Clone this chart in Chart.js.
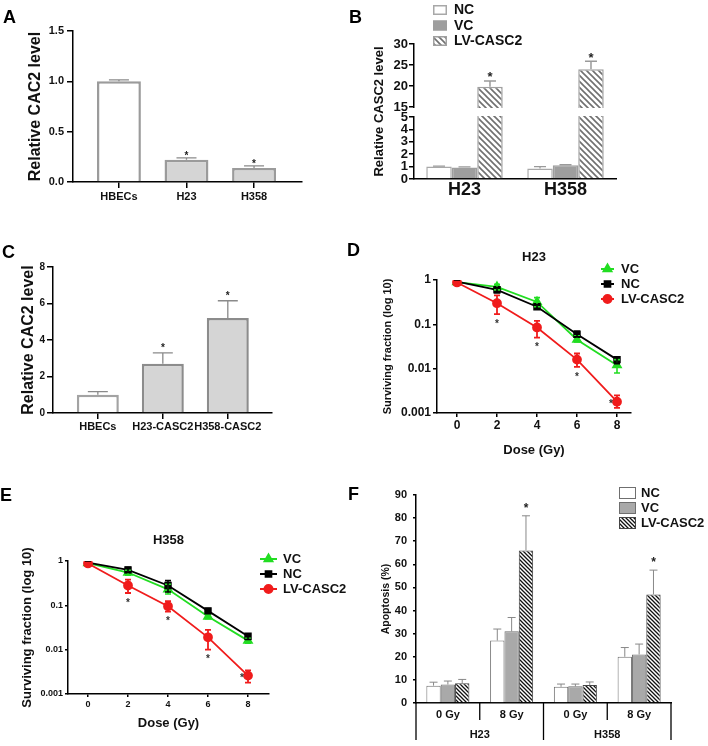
<!DOCTYPE html>
<html><head><meta charset="utf-8">
<script src="https://cdn.jsdelivr.net/npm/chart.js@4.4.1/dist/chart.umd.min.js"></script>
<style>
html,body{margin:0;padding:0;background:#fff}
body{width:708px;height:746px;position:relative;overflow:hidden;font-family:'Liberation Sans',Arial,sans-serif}
canvas{position:absolute}
.lt{position:absolute;font-weight:bold;font-size:18px;line-height:1;color:#000}
</style></head><body>
<canvas id="cA" width="354" height="205" style="left:0;top:0"></canvas>
<canvas id="cB" width="354" height="205" style="left:354px;top:0"></canvas>
<canvas id="cC" width="354" height="200" style="left:0;top:240px"></canvas>
<canvas id="cD" width="354" height="230" style="left:354px;top:232px"></canvas>
<canvas id="cE" width="354" height="246" style="left:0;top:500px"></canvas>
<canvas id="cF" width="354" height="276" style="left:354px;top:470px"></canvas>
<div class="lt" style="left:3px;top:8px">A</div>
<div class="lt" style="left:349px;top:8px">B</div>
<div class="lt" style="left:2px;top:243px">C</div>
<div class="lt" style="left:347px;top:241px">D</div>
<div class="lt" style="left:0px;top:486px">E</div>
<div class="lt" style="left:348px;top:485px">F</div>
<script>
// ---------- DATA ----------
// Panel A
const aCats = ['HBECs', 'H23', 'H358'];
const aVals = [1.0, 0.22, 0.14];
const aErr = [0.015, 0.02, 0.02];
const aSig = [false, true, true];
const aTicks = [0, 0.5, 1.0, 1.5];

// Panel B
const bCats = ['H23', 'H358'];
const bNC = [1.0, 0.85];
const bVC = [0.93, 1.1];
const bLV = [19.8, 24.0];
const bNCErr = [0.04, 0.15];
const bVCErr = [0.05, 0.05];
const bLVErr = [1.4, 1.9];
const bSig = [true, true];
const bTicks = [0, 1, 2, 3, 4, 5, 15, 20, 25, 30];

// Panel C
const cCats = ['HBECs', 'H23-CASC2', 'H358-CASC2'];
const cVals = [1.0, 2.7, 5.2];
const cErr = [0.17, 0.6, 0.95];
const cSig = [false, true, true];
const cTicks = [0, 2, 4, 6, 8];

// Panels D & E (dose in Gy)
const doses = [0, 2, 4, 6, 8];
const logTicks = [0.001, 0.01, 0.1, 1];
// D: H23
const dVC = [0.9, 0.7, 0.32, 0.045, 0.012];
const dVCLo = [0.85, 0.6, 0.25, 0.04, 0.008];
const dVCHi = [0.95, 0.8, 0.4, 0.055, 0.016];
const dNC = [0.92, 0.6, 0.25, 0.06, 0.016];
const dNCLo = [0.88, 0.52, 0.22, 0.052, 0.013];
const dNCHi = [0.96, 0.68, 0.28, 0.07, 0.018];
const dLV = [0.88, 0.3, 0.085, 0.016, 0.0018];
const dLVLo = [0.85, 0.17, 0.05, 0.011, 0.0013];
const dLVHi = [0.92, 0.45, 0.12, 0.022, 0.0025];
const dSig = [false, true, true, true, true];
// E: H358
const eVC = [0.9, 0.55, 0.23, 0.056, 0.016];
const eVCLo = [0.86, 0.48, 0.18, 0.05, 0.014];
const eVCHi = [0.94, 0.62, 0.3, 0.062, 0.018];
const eNC = [0.92, 0.63, 0.28, 0.075, 0.02];
const eNCLo = [0.88, 0.55, 0.2, 0.065, 0.017];
const eNCHi = [0.96, 0.72, 0.36, 0.085, 0.022];
const eLV = [0.88, 0.28, 0.095, 0.019, 0.0026];
const eLVLo = [0.85, 0.19, 0.072, 0.01, 0.0018];
const eLVHi = [0.92, 0.38, 0.125, 0.028, 0.0034];
const eSig = [false, true, true, true, true];

// Panel F
const fCats = ['0 Gy', '8 Gy', '0 Gy', '8 Gy'];
const fGroups = ['H23', 'H358'];
const fNC = [7.5, 27, 7, 20];
const fNCErr = [1.5, 5, 1.2, 4];
const fVC = [8, 31, 7.2, 21];
const fVCErr = [1.5, 6, 1, 4.5];
const fLV = [8.5, 66, 7.8, 47];
const fLVErr = [1.7, 15, 1.3, 10.5];
const fSig = [false, true, false, true];
const fTicks = [0, 10, 20, 30, 40, 50, 60, 70, 80, 90];

// ---------- SETUP ----------
const FF = "'Liberation Sans', Arial, sans-serif";
Chart.defaults.font.family = FF;
Chart.defaults.font.weight = 'bold';
Chart.defaults.color = '#111';
Chart.defaults.animation = false;
Chart.defaults.responsive = false;
Chart.defaults.devicePixelRatio = 1;
Chart.defaults.plugins.legend.display = false;
Chart.defaults.plugins.tooltip.enabled = false;

const fixW = w => s => { s.width = w; };
const fixH = h => s => { s.height = h; };
const ticksAt = vals => s => { s.ticks = vals.map(v => ({ value: v })); };
const pts = (xs, ys) => ys.map((y, i) => ({ x: xs[i], y }));
const idx = arr => arr.map((_, i) => i);
const AX = { color: '#000', width: 1.5 };
const grid = tl => ({ drawOnChartArea: false, drawTicks: true, tickLength: tl, color: '#000', lineWidth: 1.5, offset: false });

function hatch(p, lw, col) {
  const c = document.createElement('canvas'); c.width = p; c.height = p;
  const g = c.getContext('2d');
  g.fillStyle = '#fff'; g.fillRect(0, 0, p, p);
  g.strokeStyle = col; g.lineWidth = lw; g.beginPath();
  g.moveTo(-1, -1); g.lineTo(p + 1, p + 1);
  g.moveTo(-1, p - 1); g.lineTo(1, p + 1);
  g.moveTo(p - 1, -1); g.lineTo(p + 1, 1);
  g.stroke();
  return g.createPattern(c, 'repeat');
}

// Broken linear axis (0-5 lower segment, 15-30 upper segment)
class BrokenScale extends Chart.LinearScale {
  static id = 'broken';
  static defaults = Chart.LinearScale.defaults;
  _dec(v) {
    const lo = 5, hi = 15, fLo = 62 / 135, fHi = 72 / 135;
    if (v <= lo) return (v - this.min) / (lo - this.min) * fLo;
    if (v >= hi) return fHi + (v - hi) / (this.max - hi) * (1 - fHi);
    return fLo + (v - lo) / (hi - lo) * (fHi - fLo);
  }
  getPixelForValue(v) { return this.getPixelForDecimal(this._dec(v)); }
  getValueForPixel(p) {
    const d = this.getDecimalForPixel(p), lo = 5, hi = 15, fLo = 62 / 135, fHi = 72 / 135;
    if (d <= fLo) return this.min + d / fLo * (lo - this.min);
    if (d >= fHi) return hi + (d - fHi) / (1 - fHi) * (this.max - hi);
    return lo + (d - fLo) / (fHi - fLo) * (hi - lo);
  }
}
Chart.register(BrokenScale);

const extras = {
  id: 'extras',
  afterDatasetsDraw(chart, args, o) {
    const ctx = chart.ctx, ys = chart.scales.y, ca = chart.chartArea;
    ctx.save();
    if (o.brk) {
      const yTop = ys.getPixelForValue(o.brk[1]), yBot = ys.getPixelForValue(o.brk[0]);
      ctx.fillStyle = '#fff';
      ctx.fillRect(ca.left - 3, yTop + 1, ca.right - ca.left + 6, yBot - yTop - 2);
    }
    chart.data.datasets.forEach((ds, di) => {
      const meta = chart.getDatasetMeta(di);
      const cw = ds.capW || 4;
      meta.data.forEach((el, i) => {
        ctx.strokeStyle = ds.errColor || ds.borderColor;
        ctx.lineWidth = ds.errWidth || 1;
        const x = el.x;
        let yUp = null, yLow = null;
        if (ds.errUp) {
          const d = ds.data[i], v = (typeof d === 'object') ? d.y : d;
          const y0 = ys.getPixelForValue(v), y1 = ys.getPixelForValue(v + ds.errUp[i]);
          ctx.beginPath(); ctx.moveTo(x, y0); ctx.lineTo(x, y1);
          ctx.moveTo(x - cw, y1); ctx.lineTo(x + cw, y1); ctx.stroke();
          yUp = y1;
        }
        if (ds.errLo) {
          const y1 = ys.getPixelForValue(ds.errHi[i]), y2 = ys.getPixelForValue(ds.errLo[i]);
          ctx.beginPath(); ctx.moveTo(x, y1); ctx.lineTo(x, y2);
          ctx.moveTo(x - cw, y1); ctx.lineTo(x + cw, y1);
          ctx.moveTo(x - cw, y2); ctx.lineTo(x + cw, y2); ctx.stroke();
          yLow = y2;
        }
        if (ds.sig && ds.sig[i]) {
          const s = o.starSize || 11;
          ctx.fillStyle = o.starColor || '#222';
          ctx.font = `bold ${s}px ${FF}`;
          ctx.textAlign = 'center'; ctx.textBaseline = 'alphabetic';
          let cx, cy;
          if (yUp !== null) { cx = x; cy = yUp - o.starGap; }
          else if (i === ds.data.length - 1) { cx = x - o.starSide; cy = el.y; }
          else { cx = x; cy = yLow + o.starGap; }
          ctx.fillText('*', cx, cy + 0.57 * s);
        }
      });
    });
    ctx.restore();
  },
  afterDraw(chart, args, o) {
    const ctx = chart.ctx;
    ctx.save();
    if (o.seps) {
      const xs = chart.scales.x, b = chart.chartArea.bottom;
      ctx.strokeStyle = '#000'; ctx.lineWidth = 1.3;
      o.seps.forEach(([v, len]) => {
        const x = xs.getPixelForValue(v);
        ctx.beginPath(); ctx.moveTo(x, b); ctx.lineTo(x, b + len); ctx.stroke();
      });
    }
    if (o.legend) {
      const L = o.legend;
      chart.data.datasets.forEach((ds, i) => {
        const y = L.y + i * L.dy;
        if (L.type === 'bar') {
          ctx.fillStyle = ds.backgroundColor;
          ctx.fillRect(L.x, y - L.h / 2, L.w, L.h);
          ctx.strokeStyle = ds.borderColor; ctx.lineWidth = L.bw;
          ctx.strokeRect(L.x + L.bw / 2, y - L.h / 2 + L.bw / 2, L.w - L.bw, L.h - L.bw);
        } else {
          ctx.strokeStyle = ds.borderColor; ctx.lineWidth = 2;
          ctx.beginPath(); ctx.moveTo(L.x, y); ctx.lineTo(L.x + L.w, y); ctx.stroke();
          ctx.fillStyle = ds.pointBackgroundColor;
          Chart.helpers.drawPoint(ctx, { pointStyle: ds.pointStyle, rotation: 0, radius: ds.pointRadius, borderWidth: 1 }, L.x + L.w / 2, y);
        }
        ctx.fillStyle = '#111';
        ctx.font = `bold ${L.size}px ${FF}`;
        ctx.textAlign = 'left'; ctx.textBaseline = 'middle';
        ctx.fillText(ds.label, L.tx, y + 0.5);
      });
    }
    ctx.restore();
  }
};
Chart.register(extras);

// ---------- PANEL A ----------
new Chart(document.getElementById('cA'), {
  type: 'bar',
  data: { datasets: [{
    data: pts(idx(aCats), aVals),
    backgroundColor: ['#ffffff', '#d5d5d5', '#d5d5d5'],
    borderColor: '#9b9b9b', borderWidth: 2.5,
    barPercentage: 0.65, categoryPercentage: 1,
    errUp: aErr, sig: aSig, errColor: '#8a8a8a', errWidth: 1.3, capW: 10
  }] },
  options: {
    layout: { padding: { left: 0, right: 52, top: 31, bottom: 0 } },
    scales: {
      x: { type: 'linear', offset: false, min: -0.68, max: 2.71, afterBuildTicks: ticksAt(idx(aCats)), afterFit: fixH(23),
        ticks: { callback: v => aCats[v], autoSkip: false, maxRotation: 0, padding: 2, font: { size: 11 } },
        grid: grid(6), border: AX },
      y: { min: 0, max: 1.5, afterBuildTicks: ticksAt(aTicks), afterFit: fixW(73),
        ticks: { callback: v => v.toFixed(1), padding: 3, font: { size: 11 }, autoSkip: false },
        grid: grid(6), border: AX,
        title: { display: true, text: 'Relative CAC2 level', font: { size: 16 }, padding: { top: 26, bottom: 0 }, color: '#111' } }
    },
    plugins: { extras: { starGap: 5, starSize: 10 } }
  }
});

// ---------- PANEL B ----------
new Chart(document.getElementById('cB'), {
  type: 'bar',
  data: { labels: bCats, datasets: [
    { label: 'NC', data: bNC, backgroundColor: '#ffffff', borderColor: '#a8a8a8', borderWidth: 1.5, errUp: bNCErr, errColor: '#9a9a9a', errWidth: 1.3, capW: 6 },
    { label: 'VC', data: bVC, backgroundColor: '#9e9e9e', borderColor: '#9e9e9e', borderWidth: 1.5, errUp: bVCErr, errColor: '#9a9a9a', errWidth: 1.3, capW: 6 },
    { label: 'LV-CASC2', data: bLV, backgroundColor: hatch(6, 1.6, '#707070'), borderColor: '#a0a0a0', borderWidth: 1.5, errUp: bLVErr, sig: bSig, errColor: '#9a9a9a', errWidth: 1.5, capW: 6 }
  ] },
  options: {
    layout: { padding: { left: 0, right: 92, top: 44, bottom: 0 } },
    datasets: { bar: { categoryPercentage: 0.757, barPercentage: 1 } },
    scales: {
      x: { afterFit: fixH(26), grid: { display: false, drawTicks: false }, border: AX,
        ticks: { font: { size: 18 }, padding: 0, autoSkip: false, maxRotation: 0 } },
      y: { type: 'broken', min: 0, max: 30, afterBuildTicks: ticksAt(bTicks), afterFit: fixW(60),
        ticks: { font: { size: 13 }, padding: 1, autoSkip: false, callback: v => String(v) },
        grid: grid(5), border: AX,
        title: { display: true, text: 'Relative CASC2 level', font: { size: 13 }, padding: { top: 18, bottom: 0 }, color: '#111' } }
    },
    plugins: { extras: { brk: [5, 15], starGap: 7, starSize: 13,
      legend: { type: 'bar', x: 79, y: 10, dy: 15.5, w: 14, h: 10, bw: 1.5, tx: 100, size: 14 } } }
  }
});

// ---------- PANEL C ----------
new Chart(document.getElementById('cC'), {
  type: 'bar',
  data: { datasets: [{
    data: pts(idx(cCats), cVals),
    backgroundColor: ['#ffffff', '#d5d5d5', '#d5d5d5'],
    borderColor: ['#a3a3a3', '#8c8c8c', '#8c8c8c'], borderWidth: 2.5,
    barPercentage: 0.646, categoryPercentage: 1,
    errUp: cErr, sig: cSig, errColor: '#8a8a8a', errWidth: 1.3, capW: 10
  }] },
  options: {
    layout: { padding: { left: 0, right: 82, top: 27, bottom: 0 } },
    scales: {
      x: { type: 'linear', offset: false, min: -0.69, max: 2.68, afterBuildTicks: ticksAt(idx(cCats)), afterFit: fixH(27),
        ticks: { callback: v => cCats[v], autoSkip: false, maxRotation: 0, padding: 1, font: { size: 11 } },
        grid: grid(6), border: AX },
      y: { min: 0, max: 8, afterBuildTicks: ticksAt(cTicks), afterFit: fixW(53),
        ticks: { padding: 2, font: { size: 10 }, autoSkip: false },
        grid: grid(6), border: AX,
        title: { display: true, text: 'Relative CAC2 level', font: { size: 16 }, padding: { top: 19, bottom: 0 }, color: '#111' } }
    },
    plugins: { extras: { starGap: 7, starSize: 10 } }
  }
});

// ---------- PANELS D & E ----------
function survival(id, title, vc, vcLo, vcHi, nc, ncLo, ncHi, lv, lvLo, lvHi, sig, L) {
  const green = '#22dd22', red = '#f01c1c', black = '#000';
  return new Chart(document.getElementById(id), {
    type: 'line',
    data: { datasets: [
      { label: 'VC', data: pts(doses, vc), errLo: vcLo, errHi: vcHi, borderColor: green, backgroundColor: green,
        pointBackgroundColor: green, pointBorderColor: green, pointStyle: 'triangle', pointRadius: 4.5,
        borderWidth: 1.8, errWidth: 1.6, capW: 3, order: 2 },
      { label: 'NC', data: pts(doses, nc), errLo: ncLo, errHi: ncHi, borderColor: black, backgroundColor: black,
        pointBackgroundColor: black, pointBorderColor: black, pointStyle: 'rect', pointRadius: 4,
        borderWidth: 1.8, errWidth: 1.6, capW: 3, order: 1 },
      { label: 'LV-CASC2', data: pts(doses, lv), errLo: lvLo, errHi: lvHi, sig: sig, borderColor: red, backgroundColor: red,
        pointBackgroundColor: red, pointBorderColor: red, pointStyle: 'circle', pointRadius: 4,
        borderWidth: 1.8, errWidth: 1.8, capW: 3, order: 0 }
    ] },
    options: {
      layout: { padding: { left: 0, right: L.padR, top: 0, bottom: 0 } },
      scales: {
        x: { type: 'linear', min: -1, max: L.xMax, afterBuildTicks: ticksAt(doses), afterFit: fixH(L.xH),
          ticks: { font: { size: L.tick }, padding: L.xPad, autoSkip: false, maxRotation: 0 },
          grid: grid(L.tl), border: AX,
          title: { display: true, text: 'Dose (Gy)', font: { size: 13 }, padding: { top: 0, bottom: L.doseB }, color: '#111' } },
        y: { type: 'logarithmic', min: 0.001, max: 1, afterBuildTicks: ticksAt(logTicks), afterFit: fixW(L.yW),
          ticks: { font: { size: L.tick }, padding: 2, autoSkip: false, callback: v => String(v) },
          grid: grid(L.tl), border: AX,
          title: { display: true, text: 'Surviving fraction (log 10)', font: { size: L.yT }, padding: { top: L.yTP, bottom: 0 }, color: '#111' } }
      },
      plugins: {
        title: { display: true, text: title, fullSize: false, font: { size: 13 }, padding: { top: L.tTop, bottom: L.tBot }, color: '#111' },
        extras: { starGap: 7, starSide: 6, starSize: 10, starColor: '#333', legend: L.legend }
      }
    }
  });
}
survival('cD', 'H23', dVC, dVCLo, dVCHi, dNC, dNCLo, dNCHi, dLV, dLVLo, dLVHi, dSig,
  { padR: 77, xMax: 8.7, xH: 49, tick: 12, xPad: 1, tl: 4, doseB: 4, yW: 83, yT: 11, yTP: 27.4, tTop: 17.2, tBot: 15.2,
    legend: { type: 'line', x: 247, y: 37, dy: 15, w: 13, tx: 267, size: 13 } });
survival('cE', 'H358', eVC, eVCLo, eVCHi, eNC, eNCLo, eNCHi, eLV, eLVLo, eLVHi, eSig,
  { padR: 85, xMax: 9.05, xH: 52, tick: 9, xPad: 2.6, tl: 3, doseB: 15, yW: 68, yT: 13, yTP: 20, tTop: 32.2, tBot: 13.2,
    legend: { type: 'line', x: 260, y: 59, dy: 15, w: 17, tx: 283, size: 13 } });

// ---------- PANEL F ----------
const fIdx = idx(fCats);
new Chart(document.getElementById('cF'), {
  type: 'bar',
  data: { datasets: [
    { label: 'NC', xAxisID: 'x', data: pts(fIdx, fNC), backgroundColor: '#ffffff', borderColor: '#6f6f6f', borderWidth: 1, errUp: fNCErr, errColor: '#888', errWidth: 1, capW: 4 },
    { label: 'VC', xAxisID: 'x', data: pts(fIdx, fVC), backgroundColor: '#a9a9a9', borderColor: '#6f6f6f', borderWidth: 1, errUp: fVCErr, errColor: '#888', errWidth: 1, capW: 4 },
    { label: 'LV-CASC2', xAxisID: 'x', data: pts(fIdx, fLV), backgroundColor: hatch(4, 1.3, '#111'), borderColor: '#444', borderWidth: 1, errUp: fLVErr, sig: fSig, errColor: '#888', errWidth: 1, capW: 4 }
  ] },
  options: {
    layout: { padding: { left: 0, right: 37, top: 25, bottom: 0 } },
    datasets: { bar: { categoryPercentage: 0.675, barPercentage: 1 } },
    scales: {
      x: { type: 'linear', weight: 0, offset: false, min: -0.5, max: 3.5, afterBuildTicks: ticksAt(fIdx), afterFit: fixH(24),
        ticks: { callback: v => fCats[v], autoSkip: false, maxRotation: 0, padding: 5, font: { size: 11 } },
        grid: { display: false, drawTicks: false, offset: false }, border: AX },
      x2: { type: 'linear', axis: 'x', position: 'bottom', weight: 1, offset: false, min: -0.5, max: 3.5,
        afterBuildTicks: ticksAt([0.5, 2.5]), afterFit: fixH(19),
        ticks: { callback: v => fGroups[Math.round((v - 0.5) / 2)], autoSkip: false, maxRotation: 0, padding: 1, font: { size: 11 } },
        grid: { display: false, drawTicks: false }, border: { display: false } },
      y: { min: 0, max: 90, afterBuildTicks: ticksAt(fTicks), afterFit: fixW(62),
        ticks: { padding: 6, font: { size: 11 }, autoSkip: false },
        grid: grid(3), border: AX,
        title: { display: true, text: 'Apoptosis (%)', font: { size: 10.5 }, padding: { top: 25.7, bottom: 0 }, color: '#111' } }
    },
    plugins: { extras: { starGap: 11, starSize: 12,
      seps: [[-0.5, 37], [0.5, 17], [1.5, 37], [2.5, 17], [3.5, 37]],
      legend: { type: 'bar', x: 265, y: 23, dy: 15, w: 17, h: 12, bw: 1, tx: 287, size: 13 } } }
  }
});
</script>
</body></html>
